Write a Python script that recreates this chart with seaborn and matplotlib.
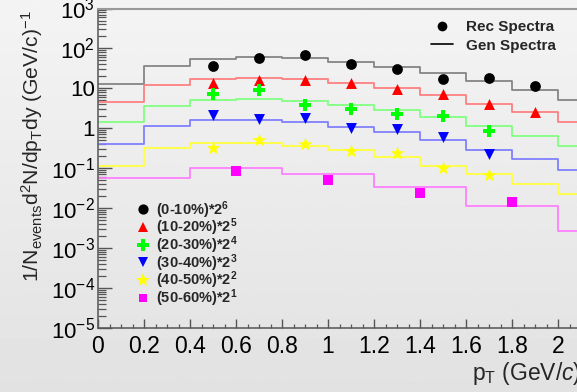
import numpy as np
import pandas as pd
import matplotlib
matplotlib.use("Agg")
import matplotlib.pyplot as plt
import seaborn as sns
from matplotlib.lines import Line2D
from matplotlib.ticker import FixedLocator, LogLocator, MultipleLocator, FuncFormatter

# ---------------- data ----------------
bin_edges = [0.0, 0.2, 0.4, 0.6, 0.8, 1.0, 1.2, 1.4, 1.6, 1.8, 2.0, 2.2]
wide_edges = [0.0, 0.4, 0.8, 1.2, 1.6, 2.0, 2.4]
pt_points = [0.5, 0.7, 0.9, 1.1, 1.3, 1.5, 1.7, 1.9]
pt_points_wide = [0.6, 1.0, 1.4, 1.8]

gen_0_10 = [13.1, 37.0, 55.4, 61.5, 56.4, 46.6, 35.1, 24.7, 15.2, 9.0, 5.26]
gen_10_20 = [4.50, 12.0, 16.7, 18.6, 17.4, 13.3, 10.1, 6.75, 4.18, 2.52, 1.42]
gen_20_30 = [1.42, 3.72, 5.17, 5.51, 4.97, 3.78, 2.83, 1.89, 1.12, 0.656, 0.353]
gen_30_40 = [0.406, 1.12, 1.63, 1.65, 1.42, 1.08, 0.794, 0.499, 0.292, 0.170, 0.0916]
gen_40_50 = [0.116, 0.327, 0.430, 0.430, 0.367, 0.292, 0.187, 0.117, 0.0714, 0.0401, 0.0225]
gen_50_60 = [0.0554, 0.103, 0.0714, 0.0337, 0.0114, 0.00269]

rec_0_10 = [37.0, 58.7, 68.3, 41.5, 29.8, 16.7, 17.7, 11.4]
rec_10_20 = [13.8, 15.8, 16.4, 13.8, 9.9, 7.03, 4.10, 2.52]
rec_20_30 = [7.03, 8.85, 3.78, 3.07, 2.25, 2.08, 0.84]
rec_30_40 = [2.21, 1.75, 1.78, 1.00, 0.966, 0.594, 0.228]
rec_40_50 = [0.322, 0.520, 0.413, 0.264, 0.241, 0.101, 0.0659]
rec_50_60 = [0.0831, 0.0514, 0.0247, 0.0147]

labels = ["(0-10%)*2$^{\\mathbf{6}}$", "(10-20%)*2$^{\\mathbf{5}}$", "(20-30%)*2$^{\\mathbf{4}}$",
          "(30-40%)*2$^{\\mathbf{3}}$", "(40-50%)*2$^{\\mathbf{2}}$", "(50-60%)*2$^{\\mathbf{1}}$"]
y_ticks = [1e-5, 1e-4, 1e-3, 1e-2, 1e-1, 1, 10, 100, 1000]

# ---------------- style ----------------
sns.set_theme(style="ticks")
plt.rcParams['font.family'] = ['Liberation Sans', 'DejaVu Sans']
plt.rcParams['mathtext.fontset'] = 'custom'
plt.rcParams['mathtext.rm'] = 'Liberation Sans'
plt.rcParams['mathtext.it'] = 'Liberation Sans:italic'
plt.rcParams['mathtext.bf'] = 'Liberation Sans:bold'
plt.rcParams['mathtext.default'] = 'regular'

W, H = 577, 392
fig = plt.figure(figsize=(W / 100, H / 100), dpi=100)

bg = fig.add_axes([0, 0, 1, 1], zorder=-10)
grad = np.linspace(0.955, 0.885, 256)[:, None]
bg.imshow(grad, cmap='gray', vmin=0, vmax=1, aspect='auto', extent=[0, 1, 0, 1], origin='upper')
bg.axis('off')

ax = fig.add_axes([98 / W, 1 - 328 / H, 552 / W, (328 - 8.5) / H])
ax.set_facecolor('none')

series = [
    (labels[0], gen_0_10, rec_0_10, bin_edges, pt_points, '#000000', '#858585', 'o', 60),
    (labels[1], gen_10_20, rec_10_20, bin_edges, pt_points, '#ff0000', '#ff8080', '^', 62),
    (labels[2], gen_20_30, rec_20_30, bin_edges, pt_points, '#00ff00', '#80ff80', 'P', 85),
    (labels[3], gen_30_40, rec_30_40, bin_edges, pt_points, '#0000ff', '#8080ff', 'v', 62),
    (labels[4], gen_40_50, rec_40_50, bin_edges, pt_points, '#ffff00', '#ffff40', '*', 115),
    (labels[5], gen_50_60, rec_50_60, wide_edges, pt_points_wide, '#ff00ff', '#ff80ff', 's', 46),
]

handles = []
for label, gen, rec, edges, pts, mc, lc, mk, ms in series:
    df_gen = pd.DataFrame({'pt': edges, 'y': list(gen) + [gen[-1]]})
    sns.lineplot(data=df_gen, x='pt', y='y', drawstyle='steps-post', color=lc, lw=1.3,
                 ax=ax, estimator=None, sort=False, legend=False, zorder=2)
    df_rec = pd.DataFrame({'pt': pts[:len(rec)], 'y': rec})
    sns.scatterplot(data=df_rec, x='pt', y='y', marker=mk, s=ms, color=mc, linewidth=0,
                    ax=ax, legend=False, zorder=5)
    handles.append(Line2D([], [], ls='none', marker=mk, color=mc, markeredgewidth=0,
                          markersize=np.sqrt(ms) * 0.95, label=label))

ax.set_yscale('log')
ax.set_xlim(0, 2.4)
ax.set_ylim(1e-5, 1e3)
ax.set_xlabel('')
ax.set_ylabel('')

ax.xaxis.set_major_locator(MultipleLocator(0.2))
ax.xaxis.set_minor_locator(MultipleLocator(0.05))
ax.xaxis.set_major_formatter(FuncFormatter(lambda v, p: f"{v:g}"))


def yfmt(v, p):
    k = int(round(np.log10(v)))
    if k == 0:
        return "1"
    if k == 1:
        return "10"
    return r"$10^{%d}$" % k


ax.yaxis.set_major_locator(FixedLocator(y_ticks))
ax.yaxis.set_minor_locator(LogLocator(base=10, subs=np.arange(2, 10), numticks=100))
ax.yaxis.set_major_formatter(FuncFormatter(yfmt))

ax.tick_params(axis='both', which='both', direction='in', color='#555555', labelcolor='black')
ax.tick_params(axis='y', which='major', length=10, width=1.0, labelsize=16, pad=2)
ax.tick_params(axis='y', which='minor', length=5.5, width=0.9)
ax.tick_params(axis='x', which='major', length=6.5, width=1.0, labelsize=16.5, pad=5)
ax.tick_params(axis='x', which='minor', length=3.2, width=0.9)

for side in ['left', 'bottom']:
    ax.spines[side].set_color('#555555')
    ax.spines[side].set_linewidth(1.1)
ax.spines['top'].set_color('#999999')
ax.spines['top'].set_linewidth(1.5)
ax.spines['right'].set_visible(False)

fig.text(32 / W, 1 - 10 / H,
         r"1/N$_{events}$d$^{2}$N/dp$_{T}$dy (GeV/c)$^{-1}$",
         rotation=90, ha='center', va='top', fontsize=15.2)
fig.text(472 / W, 1 - 380 / H, r"p$_{T}$ (GeV/$\mathit{c}$)", ha='left', va='baseline', fontsize=16.5)

leg1 = ax.legend(handles=handles, loc='upper left', bbox_to_anchor=(135.7 / W, 1 - 199 / H),
                 bbox_transform=fig.transFigure, frameon=False, prop={'weight': 'bold', 'size': 10.5},
                 handlelength=1.0, handletextpad=0.4, borderpad=0, borderaxespad=0, labelspacing=-0.27)
ax.add_artist(leg1)

h2 = [Line2D([], [], ls='none', marker='o', color='black', markeredgewidth=0, markersize=7, label='Rec Spectra'),
      Line2D([], [], color='black', lw=1.2, label='Gen Spectra')]
ax.legend(handles=h2, loc='upper left', bbox_to_anchor=(431 / W, 1 - 20 / H),
          bbox_transform=fig.transFigure, frameon=False, prop={'weight': 'bold', 'size': 11},
          handlelength=1.45, handletextpad=0.85, borderpad=0, borderaxespad=0, labelspacing=0.3)

fig.savefig("out.png", dpi=100)
